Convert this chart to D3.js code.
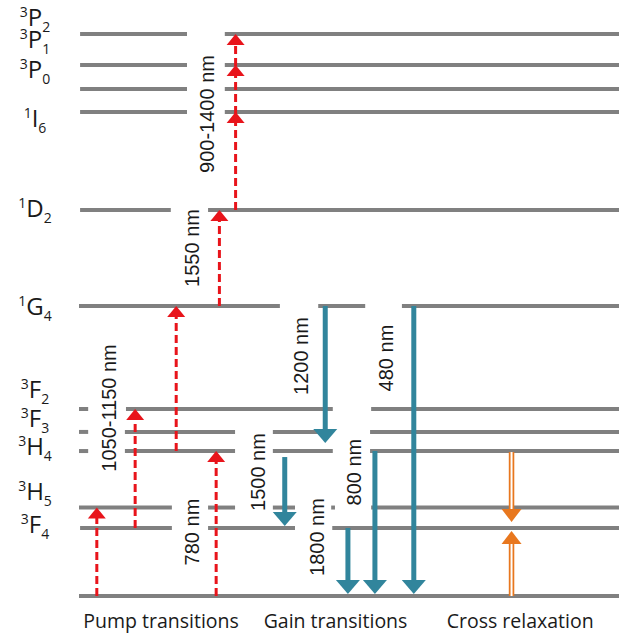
<!DOCTYPE html>
<html>
<head>
<meta charset="utf-8">
<script src="https://cdn.jsdelivr.net/npm/d3@7"></script>
<style>
  body { margin: 0; background: #fff; }
  text { font-family: "Open Sans", sans-serif; fill: #1a1a1a; }
  .nm { font-family: "Liberation Sans", Arial, sans-serif; font-size: 20px; }
</style>
</head>
<body>
<svg id="chart" width="620" height="637"></svg>
<script>
// Tm3+ levels, energy in 10^3 cm-1
const levelNames = ["3H6", "3F4", "3H5", "3H4", "3F3", "3F2", "1G4", "1D2", "1I6", "3P0", "3P1", "3P2"];
const levelEnergy = [0, 4.66, 6.06, 9.93, 11.24, 12.81, 19.87, 26.44, 33.16, 34.73, 36.38, 38.5];
// where the name of each level sits (same units), null = no name
const labelEnergy = [null, 4.32, 6.58, 9.66, 11.58, 13.56, 19.25, 25.96, 32.13, 35.49, 37.54, 39.05];
// drawn pieces of each level line across the width (0-100), gaps leave room for the labels
const levelPieces = [
	[[0, 100]],
	[[0.2, 17.2], [23.9, 40.0], [46.9, 100]],
	[[0, 17.2], [23.9, 28.9], [35.9, 40.0], [46.7, 47.4], [54.1, 100]],
	[[0, 1.7], [8.5, 28.9], [35.9, 47.0], [53.9, 100]],
	[[0, 1.7], [8.5, 28.9], [35.9, 47.0], [53.9, 100]],
	[[0, 1.7], [8.7, 47.0], [54.1, 100]],
	[[0, 37.2], [44.3, 53.0], [59.8, 100]],
	[[0.2, 17.0], [23.9, 100]],
	[[0.2, 20.0], [27.0, 100]],
	[[0.2, 20.0], [27.0, 100]],
	[[0.2, 20.0], [27.0, 100]],
	[[0.2, 20.0], [27.0, 100]]
];

const pump = [
	{ from: "3H6", to: ["3H5"], col: 3.3 },
	{ from: "3F4", to: ["3F2"], col: 10.4 },
	{ from: "3H4", to: ["1G4"], col: 18.0 },
	{ from: "3H6", to: ["3H4"], col: 25.4 },
	{ from: "1G4", to: ["1D2"], col: 26.0 },
	{ from: "1D2", to: ["1I6", "3P1", "3P2"], col: 29.0 }
];

const gain = [
	{ from: "1G4", to: "3H4", col: 45.6, stop: 10.48 },
	{ from: "1G4", to: "3H6", col: 62.0 },
	{ from: "3H4", to: "3F4", col: 38.1, start: 9.52 },
	{ from: "3H4", to: "3H6", col: 54.8 },
	{ from: "3F4", to: "3H6", col: 49.8 }
];

const cross = [
	{ from: "3H4", to: "3F4", col: 80.1 },
	{ from: "3H6", to: "3F4", col: 80.1 }
];

// wavelength tags: text, column, energy of the centre
const nmLabels = [
	{ text: "900-1400 nm", col: 23.7, at: 33.02 },
	{ text: "1550 nm", col: 21.0, at: 23.84 },
	{ text: "1050-1150 nm", col: 5.5, at: 12.88 },
	{ text: "780 nm", col: 20.9, at: 4.38 },
	{ text: "1200 nm", col: 41.1, at: 16.44 },
	{ text: "480 nm", col: 56.9, at: 16.30 },
	{ text: "1500 nm", col: 33.1, at: 8.49 },
	{ text: "800 nm", col: 50.9, at: 8.49 },
	{ text: "1800 nm", col: 44.1, at: 4.04 }
];

const groups = ["Pump transitions", "Gain transitions", "Cross relaxation"];
const groupCol = [15.2, 47.5, 81.7];

const svg = d3.select("#chart");
const x = d3.scaleLinear().domain([0, 100]).range([79, 619]);
const y = d3.scaleLinear().domain([0, 38.5]).range([596, 34]);
const E = name => levelEnergy[levelNames.indexOf(name)];

const RED = "#e8141b", TEAL = "#31859c", ORANGE = "#e8771e", GREY = "#808080";

// level lines
svg.append("g").selectAll("line")
	.data(levelNames.flatMap((n, i) => levelPieces[i].map(p => ({ e: levelEnergy[i], a: p[0], b: p[1] }))))
	.join("line")
	.attr("x1", d => x(d.a)).attr("x2", d => x(d.b))
	.attr("y1", d => y(d.e)).attr("y2", d => y(d.e))
	.attr("stroke", GREY).attr("stroke-width", 4);

// level names
const lab = svg.append("g").selectAll("text")
	.data(levelNames.map((n, i) => ({ n, e: labelEnergy[i] })).filter(d => d.e != null))
	.join("text")
	.attr("x", 35).attr("y", d => y(d.e)).attr("text-anchor", "middle");
lab.append("tspan").attr("font-size", 14).attr("dy", -9).text(d => d.n[0]);
lab.append("tspan").attr("font-size", 24).attr("dy", 9).text(d => d.n[1]);
lab.append("tspan").attr("font-size", 14).attr("dy", 6).text(d => d.n.slice(2));

const tri = (cx, tip, w, h, dir) =>
	`${cx},${tip} ${cx - w / 2},${tip + dir * h} ${cx + w / 2},${tip + dir * h}`;

// pump: red dashed, pointing up
const pg = svg.append("g");
pump.forEach(d => {
	const cx = x(d.col);
	const top = y(E(d.to[d.to.length - 1]));
	pg.append("line")
		.attr("x1", cx).attr("x2", cx)
		.attr("y1", y(E(d.from))).attr("y2", top + 10)
		.attr("stroke", RED).attr("stroke-width", 3)
		.attr("stroke-dasharray", "8,4");
	d.to.forEach(t => {
		pg.append("polygon").attr("points", tri(cx, y(E(t)), 18, 11, 1)).attr("fill", RED);
	});
});

// gain: teal, pointing down
const gg = svg.append("g");
gain.forEach(d => {
	const cx = x(d.col);
	const tip = d.stop != null ? y(d.stop) : y(E(d.to)) - 2;
	gg.append("line")
		.attr("x1", cx).attr("x2", cx)
		.attr("y1", y(d.start != null ? d.start : E(d.from))).attr("y2", tip - 12)
		.attr("stroke", TEAL).attr("stroke-width", 5);
	gg.append("polygon").attr("points", tri(cx, tip, 24, 14, -1)).attr("fill", TEAL);
});

// cross relaxation: double orange line, both heads meet at 3F4
const cg = svg.append("g");
cross.forEach(d => {
	const cx = x(d.col);
	const down = E(d.from) > E(d.to);
	const dir = down ? -1 : 1;
	const tip = y(E(d.to)) + (down ? -6 : 3);
	const y0 = y(E(d.from)) + (down ? 1 : 0);
	[[5.5, ORANGE], [2, "#fff"]].forEach(([w, c]) => {
		cg.append("line")
			.attr("x1", cx).attr("x2", cx)
			.attr("y1", y0).attr("y2", tip + dir * 12)
			.attr("stroke", c).attr("stroke-width", w);
	});
	cg.append("polygon").attr("points", tri(cx, tip, 20, 13, dir)).attr("fill", ORANGE);
});

// wavelength tags
svg.append("g").selectAll("text")
	.data(nmLabels)
	.join("text")
	.attr("class", "nm")
	.attr("transform", d => `translate(${x(d.col)},${y(d.at)}) rotate(-90)`)
	.attr("text-anchor", "middle").attr("dy", "0.35em")
	.text(d => d.text);

// group captions
svg.append("g").selectAll("text")
	.data(groups)
	.join("text")
	.attr("x", (d, i) => x(groupCol[i])).attr("y", 628)
	.attr("text-anchor", "middle").attr("font-size", 19.5)
	.text(d => d);
</script>
</body>
</html>
